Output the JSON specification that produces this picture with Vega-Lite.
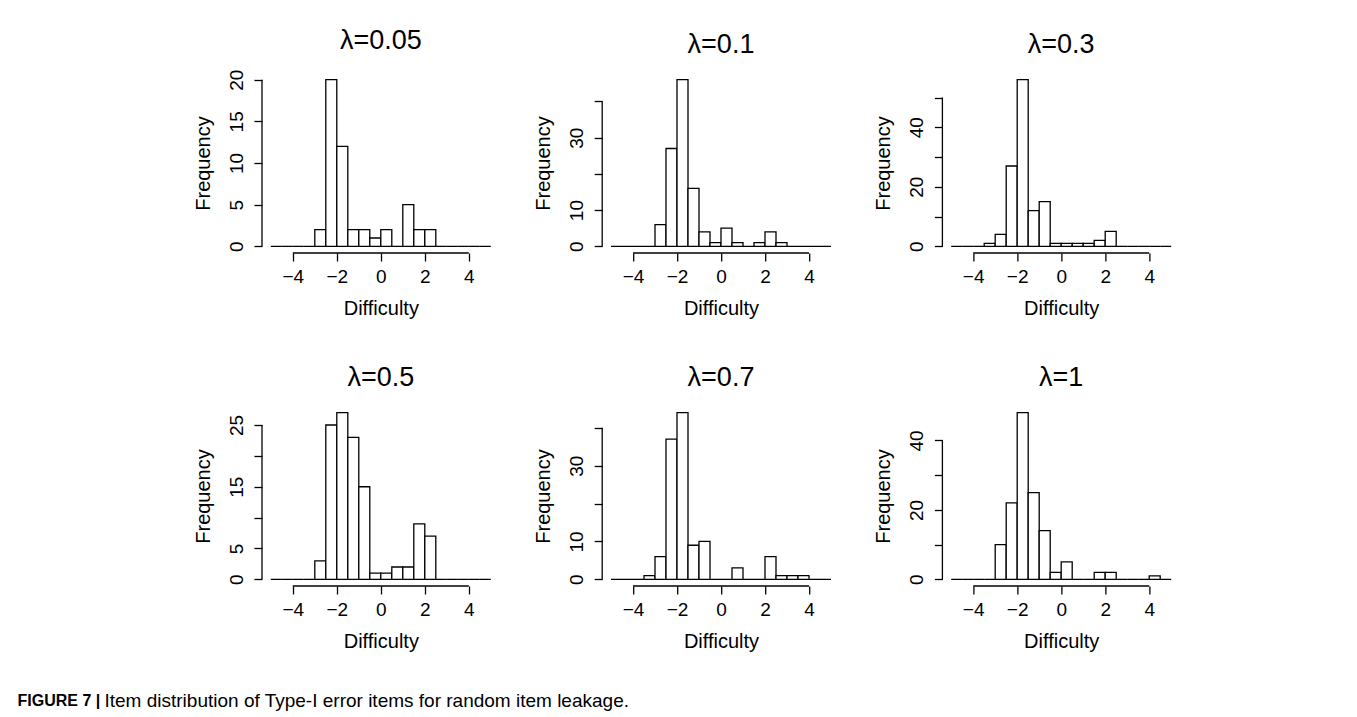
{
  "$schema": "https://vega.github.io/schema/vega-lite/v6.json",
  "background": "white",
  "padding": {"left": 17, "top": 27, "right": 5, "bottom": 2},
  "datasets": {
    "hist": [
      {"lambda": "0.05", "lo": -5, "hi": -4.5, "count": 0},
      {"lambda": "0.05", "lo": -4.5, "hi": -4, "count": 0},
      {"lambda": "0.05", "lo": -4, "hi": -3.5, "count": 0},
      {"lambda": "0.05", "lo": -3.5, "hi": -3, "count": 0},
      {"lambda": "0.05", "lo": -3, "hi": -2.5, "count": 2},
      {"lambda": "0.05", "lo": -2.5, "hi": -2, "count": 20},
      {"lambda": "0.05", "lo": -2, "hi": -1.5, "count": 12},
      {"lambda": "0.05", "lo": -1.5, "hi": -1, "count": 2},
      {"lambda": "0.05", "lo": -1, "hi": -0.5, "count": 2},
      {"lambda": "0.05", "lo": -0.5, "hi": 0, "count": 1},
      {"lambda": "0.05", "lo": 0, "hi": 0.5, "count": 2},
      {"lambda": "0.05", "lo": 0.5, "hi": 1, "count": 0},
      {"lambda": "0.05", "lo": 1, "hi": 1.5, "count": 5},
      {"lambda": "0.05", "lo": 1.5, "hi": 2, "count": 2},
      {"lambda": "0.05", "lo": 2, "hi": 2.5, "count": 2},
      {"lambda": "0.05", "lo": 2.5, "hi": 3, "count": 0},
      {"lambda": "0.05", "lo": 3, "hi": 3.5, "count": 0},
      {"lambda": "0.05", "lo": 3.5, "hi": 4, "count": 0},
      {"lambda": "0.05", "lo": 4, "hi": 4.5, "count": 0},
      {"lambda": "0.05", "lo": 4.5, "hi": 5, "count": 0},
      {"lambda": "0.1", "lo": -5, "hi": -4.5, "count": 0},
      {"lambda": "0.1", "lo": -4.5, "hi": -4, "count": 0},
      {"lambda": "0.1", "lo": -4, "hi": -3.5, "count": 0},
      {"lambda": "0.1", "lo": -3.5, "hi": -3, "count": 0},
      {"lambda": "0.1", "lo": -3, "hi": -2.5, "count": 6},
      {"lambda": "0.1", "lo": -2.5, "hi": -2, "count": 27},
      {"lambda": "0.1", "lo": -2, "hi": -1.5, "count": 46},
      {"lambda": "0.1", "lo": -1.5, "hi": -1, "count": 16},
      {"lambda": "0.1", "lo": -1, "hi": -0.5, "count": 4},
      {"lambda": "0.1", "lo": -0.5, "hi": 0, "count": 1},
      {"lambda": "0.1", "lo": 0, "hi": 0.5, "count": 5},
      {"lambda": "0.1", "lo": 0.5, "hi": 1, "count": 1},
      {"lambda": "0.1", "lo": 1, "hi": 1.5, "count": 0},
      {"lambda": "0.1", "lo": 1.5, "hi": 2, "count": 1},
      {"lambda": "0.1", "lo": 2, "hi": 2.5, "count": 4},
      {"lambda": "0.1", "lo": 2.5, "hi": 3, "count": 1},
      {"lambda": "0.1", "lo": 3, "hi": 3.5, "count": 0},
      {"lambda": "0.1", "lo": 3.5, "hi": 4, "count": 0},
      {"lambda": "0.1", "lo": 4, "hi": 4.5, "count": 0},
      {"lambda": "0.1", "lo": 4.5, "hi": 5, "count": 0},
      {"lambda": "0.3", "lo": -5, "hi": -4.5, "count": 0},
      {"lambda": "0.3", "lo": -4.5, "hi": -4, "count": 0},
      {"lambda": "0.3", "lo": -4, "hi": -3.5, "count": 0},
      {"lambda": "0.3", "lo": -3.5, "hi": -3, "count": 1},
      {"lambda": "0.3", "lo": -3, "hi": -2.5, "count": 4},
      {"lambda": "0.3", "lo": -2.5, "hi": -2, "count": 27},
      {"lambda": "0.3", "lo": -2, "hi": -1.5, "count": 56},
      {"lambda": "0.3", "lo": -1.5, "hi": -1, "count": 12},
      {"lambda": "0.3", "lo": -1, "hi": -0.5, "count": 15},
      {"lambda": "0.3", "lo": -0.5, "hi": 0, "count": 1},
      {"lambda": "0.3", "lo": 0, "hi": 0.5, "count": 1},
      {"lambda": "0.3", "lo": 0.5, "hi": 1, "count": 1},
      {"lambda": "0.3", "lo": 1, "hi": 1.5, "count": 1},
      {"lambda": "0.3", "lo": 1.5, "hi": 2, "count": 2},
      {"lambda": "0.3", "lo": 2, "hi": 2.5, "count": 5},
      {"lambda": "0.3", "lo": 2.5, "hi": 3, "count": 0},
      {"lambda": "0.3", "lo": 3, "hi": 3.5, "count": 0},
      {"lambda": "0.3", "lo": 3.5, "hi": 4, "count": 0},
      {"lambda": "0.3", "lo": 4, "hi": 4.5, "count": 0},
      {"lambda": "0.3", "lo": 4.5, "hi": 5, "count": 0},
      {"lambda": "0.5", "lo": -5, "hi": -4.5, "count": 0},
      {"lambda": "0.5", "lo": -4.5, "hi": -4, "count": 0},
      {"lambda": "0.5", "lo": -4, "hi": -3.5, "count": 0},
      {"lambda": "0.5", "lo": -3.5, "hi": -3, "count": 0},
      {"lambda": "0.5", "lo": -3, "hi": -2.5, "count": 3},
      {"lambda": "0.5", "lo": -2.5, "hi": -2, "count": 25},
      {"lambda": "0.5", "lo": -2, "hi": -1.5, "count": 27},
      {"lambda": "0.5", "lo": -1.5, "hi": -1, "count": 23},
      {"lambda": "0.5", "lo": -1, "hi": -0.5, "count": 15},
      {"lambda": "0.5", "lo": -0.5, "hi": 0, "count": 1},
      {"lambda": "0.5", "lo": 0, "hi": 0.5, "count": 1},
      {"lambda": "0.5", "lo": 0.5, "hi": 1, "count": 2},
      {"lambda": "0.5", "lo": 1, "hi": 1.5, "count": 2},
      {"lambda": "0.5", "lo": 1.5, "hi": 2, "count": 9},
      {"lambda": "0.5", "lo": 2, "hi": 2.5, "count": 7},
      {"lambda": "0.5", "lo": 2.5, "hi": 3, "count": 0},
      {"lambda": "0.5", "lo": 3, "hi": 3.5, "count": 0},
      {"lambda": "0.5", "lo": 3.5, "hi": 4, "count": 0},
      {"lambda": "0.5", "lo": 4, "hi": 4.5, "count": 0},
      {"lambda": "0.5", "lo": 4.5, "hi": 5, "count": 0},
      {"lambda": "0.7", "lo": -5, "hi": -4.5, "count": 0},
      {"lambda": "0.7", "lo": -4.5, "hi": -4, "count": 0},
      {"lambda": "0.7", "lo": -4, "hi": -3.5, "count": 0},
      {"lambda": "0.7", "lo": -3.5, "hi": -3, "count": 1},
      {"lambda": "0.7", "lo": -3, "hi": -2.5, "count": 6},
      {"lambda": "0.7", "lo": -2.5, "hi": -2, "count": 37},
      {"lambda": "0.7", "lo": -2, "hi": -1.5, "count": 44},
      {"lambda": "0.7", "lo": -1.5, "hi": -1, "count": 9},
      {"lambda": "0.7", "lo": -1, "hi": -0.5, "count": 10},
      {"lambda": "0.7", "lo": -0.5, "hi": 0, "count": 0},
      {"lambda": "0.7", "lo": 0, "hi": 0.5, "count": 0},
      {"lambda": "0.7", "lo": 0.5, "hi": 1, "count": 3},
      {"lambda": "0.7", "lo": 1, "hi": 1.5, "count": 0},
      {"lambda": "0.7", "lo": 1.5, "hi": 2, "count": 0},
      {"lambda": "0.7", "lo": 2, "hi": 2.5, "count": 6},
      {"lambda": "0.7", "lo": 2.5, "hi": 3, "count": 1},
      {"lambda": "0.7", "lo": 3, "hi": 3.5, "count": 1},
      {"lambda": "0.7", "lo": 3.5, "hi": 4, "count": 1},
      {"lambda": "0.7", "lo": 4, "hi": 4.5, "count": 0},
      {"lambda": "0.7", "lo": 4.5, "hi": 5, "count": 0},
      {"lambda": "1", "lo": -5, "hi": -4.5, "count": 0},
      {"lambda": "1", "lo": -4.5, "hi": -4, "count": 0},
      {"lambda": "1", "lo": -4, "hi": -3.5, "count": 0},
      {"lambda": "1", "lo": -3.5, "hi": -3, "count": 0},
      {"lambda": "1", "lo": -3, "hi": -2.5, "count": 10},
      {"lambda": "1", "lo": -2.5, "hi": -2, "count": 22},
      {"lambda": "1", "lo": -2, "hi": -1.5, "count": 48},
      {"lambda": "1", "lo": -1.5, "hi": -1, "count": 25},
      {"lambda": "1", "lo": -1, "hi": -0.5, "count": 14},
      {"lambda": "1", "lo": -0.5, "hi": 0, "count": 2},
      {"lambda": "1", "lo": 0, "hi": 0.5, "count": 5},
      {"lambda": "1", "lo": 0.5, "hi": 1, "count": 0},
      {"lambda": "1", "lo": 1, "hi": 1.5, "count": 0},
      {"lambda": "1", "lo": 1.5, "hi": 2, "count": 2},
      {"lambda": "1", "lo": 2, "hi": 2.5, "count": 2},
      {"lambda": "1", "lo": 2.5, "hi": 3, "count": 0},
      {"lambda": "1", "lo": 3, "hi": 3.5, "count": 0},
      {"lambda": "1", "lo": 3.5, "hi": 4, "count": 0},
      {"lambda": "1", "lo": 4, "hi": 4.5, "count": 1},
      {"lambda": "1", "lo": 4.5, "hi": 5, "count": 0}
    ]
  },
  "vconcat": [
    {
      "columns": 3,
      "spacing": {"row": 153, "column": 102.2},
      "bounds": "flush",
      "concat": [
        {
          "width": 237.6, "height": 180,
          "title": "λ=0.05",
          "layer": [
            {
              "data": {"name": "hist"},
              "transform": [{"filter": "datum.lambda === '0.05'"}],
              "mark": {"type": "rect", "fill": "white", "stroke": "black", "strokeWidth": 1.3},
              "encoding": {
                "x": {"field": "lo", "type": "quantitative", "scale": {"domain": [-5.4, 5.4], "nice": false, "zero": false},
                      "axis": {"values": [-4, -2, 0, 2, 4], "title": "Difficulty", "labelPadding": 6, "titlePadding": 12}},
                "x2": {"field": "hi"},
                "y": {"field": "count", "type": "quantitative", "scale": {"domain": [-0.8, 20.8], "nice": false, "zero": false},
                      "axis": {"values": [0, 5, 10, 15, 20], "title": "Frequency", "labelAngle": -90, "labelAlign": "center", "labelBaseline": "bottom", "labelPadding": 8, "titlePadding": 14}},
                "y2": {"datum": 0}
              }
            },
            {"data": {"values": [{}]}, "mark": {"type": "rule", "stroke": "black", "strokeWidth": 1.3},
             "encoding": {"x": {"datum": -4}, "x2": {"datum": 4}, "y": {"datum": -0.8}}},
            {"data": {"values": [{}]}, "mark": {"type": "rule", "stroke": "black", "strokeWidth": 1.3},
             "encoding": {"x": {"datum": -5.4}, "y": {"datum": 0}, "y2": {"datum": 20}}}
          ]
        },
        {
          "width": 237.6, "height": 180,
          "title": "λ=0.1",
          "layer": [
            {
              "data": {"name": "hist"},
              "transform": [{"filter": "datum.lambda === '0.1'"}],
              "mark": {"type": "rect", "fill": "white", "stroke": "black", "strokeWidth": 1.3},
              "encoding": {
                "x": {"field": "lo", "type": "quantitative", "scale": {"domain": [-5.4, 5.4], "nice": false, "zero": false},
                      "axis": {"values": [-4, -2, 0, 2, 4], "title": "Difficulty", "labelPadding": 6, "titlePadding": 12}},
                "x2": {"field": "hi"},
                "y": {"field": "count", "type": "quantitative", "scale": {"domain": [-1.84, 47.84], "nice": false, "zero": false},
                      "axis": {"values": [0, 10, 20, 30, 40], "labelExpr": "datum.value == 0 || datum.value == 10 || datum.value == 30 ? datum.label : ''", "title": "Frequency", "labelAngle": -90, "labelAlign": "center", "labelBaseline": "bottom", "labelPadding": 8, "titlePadding": 14}},
                "y2": {"datum": 0}
              }
            },
            {"data": {"values": [{}]}, "mark": {"type": "rule", "stroke": "black", "strokeWidth": 1.3},
             "encoding": {"x": {"datum": -4}, "x2": {"datum": 4}, "y": {"datum": -1.84}}},
            {"data": {"values": [{}]}, "mark": {"type": "rule", "stroke": "black", "strokeWidth": 1.3},
             "encoding": {"x": {"datum": -5.4}, "y": {"datum": 0}, "y2": {"datum": 40}}}
          ]
        },
        {
          "width": 237.6, "height": 180,
          "title": "λ=0.3",
          "layer": [
            {
              "data": {"name": "hist"},
              "transform": [{"filter": "datum.lambda === '0.3'"}],
              "mark": {"type": "rect", "fill": "white", "stroke": "black", "strokeWidth": 1.3},
              "encoding": {
                "x": {"field": "lo", "type": "quantitative", "scale": {"domain": [-5.4, 5.4], "nice": false, "zero": false},
                      "axis": {"values": [-4, -2, 0, 2, 4], "title": "Difficulty", "labelPadding": 6, "titlePadding": 12}},
                "x2": {"field": "hi"},
                "y": {"field": "count", "type": "quantitative", "scale": {"domain": [-2.24, 58.24], "nice": false, "zero": false},
                      "axis": {"values": [0, 10, 20, 30, 40, 50], "labelExpr": "datum.value == 0 || datum.value == 20 || datum.value == 40 ? datum.label : ''", "title": "Frequency", "labelAngle": -90, "labelAlign": "center", "labelBaseline": "bottom", "labelPadding": 8, "titlePadding": 14}},
                "y2": {"datum": 0}
              }
            },
            {"data": {"values": [{}]}, "mark": {"type": "rule", "stroke": "black", "strokeWidth": 1.3},
             "encoding": {"x": {"datum": -4}, "x2": {"datum": 4}, "y": {"datum": -2.24}}},
            {"data": {"values": [{}]}, "mark": {"type": "rule", "stroke": "black", "strokeWidth": 1.3},
             "encoding": {"x": {"datum": -5.4}, "y": {"datum": 0}, "y2": {"datum": 50}}}
          ]
        },
        {
          "width": 237.6, "height": 180,
          "title": "λ=0.5",
          "layer": [
            {
              "data": {"name": "hist"},
              "transform": [{"filter": "datum.lambda === '0.5'"}],
              "mark": {"type": "rect", "fill": "white", "stroke": "black", "strokeWidth": 1.3},
              "encoding": {
                "x": {"field": "lo", "type": "quantitative", "scale": {"domain": [-5.4, 5.4], "nice": false, "zero": false},
                      "axis": {"values": [-4, -2, 0, 2, 4], "title": "Difficulty", "labelPadding": 6, "titlePadding": 12}},
                "x2": {"field": "hi"},
                "y": {"field": "count", "type": "quantitative", "scale": {"domain": [-1.08, 28.08], "nice": false, "zero": false},
                      "axis": {"values": [0, 5, 10, 15, 20, 25], "labelExpr": "datum.value == 0 || datum.value == 5 || datum.value == 15 || datum.value == 25 ? datum.label : ''", "title": "Frequency", "labelAngle": -90, "labelAlign": "center", "labelBaseline": "bottom", "labelPadding": 8, "titlePadding": 14}},
                "y2": {"datum": 0}
              }
            },
            {"data": {"values": [{}]}, "mark": {"type": "rule", "stroke": "black", "strokeWidth": 1.3},
             "encoding": {"x": {"datum": -4}, "x2": {"datum": 4}, "y": {"datum": -1.08}}},
            {"data": {"values": [{}]}, "mark": {"type": "rule", "stroke": "black", "strokeWidth": 1.3},
             "encoding": {"x": {"datum": -5.4}, "y": {"datum": 0}, "y2": {"datum": 25}}}
          ]
        },
        {
          "width": 237.6, "height": 180,
          "title": "λ=0.7",
          "layer": [
            {
              "data": {"name": "hist"},
              "transform": [{"filter": "datum.lambda === '0.7'"}],
              "mark": {"type": "rect", "fill": "white", "stroke": "black", "strokeWidth": 1.3},
              "encoding": {
                "x": {"field": "lo", "type": "quantitative", "scale": {"domain": [-5.4, 5.4], "nice": false, "zero": false},
                      "axis": {"values": [-4, -2, 0, 2, 4], "title": "Difficulty", "labelPadding": 6, "titlePadding": 12}},
                "x2": {"field": "hi"},
                "y": {"field": "count", "type": "quantitative", "scale": {"domain": [-1.76, 45.76], "nice": false, "zero": false},
                      "axis": {"values": [0, 10, 20, 30, 40], "labelExpr": "datum.value == 0 || datum.value == 10 || datum.value == 30 ? datum.label : ''", "title": "Frequency", "labelAngle": -90, "labelAlign": "center", "labelBaseline": "bottom", "labelPadding": 8, "titlePadding": 14}},
                "y2": {"datum": 0}
              }
            },
            {"data": {"values": [{}]}, "mark": {"type": "rule", "stroke": "black", "strokeWidth": 1.3},
             "encoding": {"x": {"datum": -4}, "x2": {"datum": 4}, "y": {"datum": -1.76}}},
            {"data": {"values": [{}]}, "mark": {"type": "rule", "stroke": "black", "strokeWidth": 1.3},
             "encoding": {"x": {"datum": -5.4}, "y": {"datum": 0}, "y2": {"datum": 40}}}
          ]
        },
        {
          "width": 237.6, "height": 180,
          "title": "λ=1",
          "layer": [
            {
              "data": {"name": "hist"},
              "transform": [{"filter": "datum.lambda === '1'"}],
              "mark": {"type": "rect", "fill": "white", "stroke": "black", "strokeWidth": 1.3},
              "encoding": {
                "x": {"field": "lo", "type": "quantitative", "scale": {"domain": [-5.4, 5.4], "nice": false, "zero": false},
                      "axis": {"values": [-4, -2, 0, 2, 4], "title": "Difficulty", "labelPadding": 6, "titlePadding": 12}},
                "x2": {"field": "hi"},
                "y": {"field": "count", "type": "quantitative", "scale": {"domain": [-1.92, 49.92], "nice": false, "zero": false},
                      "axis": {"values": [0, 10, 20, 30, 40], "labelExpr": "datum.value == 0 || datum.value == 20 || datum.value == 40 ? datum.label : ''", "title": "Frequency", "labelAngle": -90, "labelAlign": "center", "labelBaseline": "bottom", "labelPadding": 8, "titlePadding": 14}},
                "y2": {"datum": 0}
              }
            },
            {"data": {"values": [{}]}, "mark": {"type": "rule", "stroke": "black", "strokeWidth": 1.3},
             "encoding": {"x": {"datum": -4}, "x2": {"datum": 4}, "y": {"datum": -1.92}}},
            {"data": {"values": [{}]}, "mark": {"type": "rule", "stroke": "black", "strokeWidth": 1.3},
             "encoding": {"x": {"datum": -5.4}, "y": {"datum": 0}, "y2": {"datum": 40}}}
          ]
        }
      ]
    },
    {
      "width": 1, "height": 1,
      "data": {"values": [{}]},
      "layer": [
        {"mark": {"type": "text", "text": "FIGURE 7 |", "fontWeight": "bold", "fontSize": 16, "align": "left", "baseline": "middle", "dx": -245, "color": "black"}, "encoding": {}},
        {"mark": {"type": "text", "text": "Item distribution of Type-I error items for random item leakage.", "fontSize": 19, "align": "left", "baseline": "middle", "dx": -158, "color": "black"}, "encoding": {}}
      ]
    }
  ],
  "spacing": 627,
  "bounds": "flush",
  "config": {
    "font": "Liberation Sans",
    "view": {"stroke": null},
    "axis": {"grid": false, "domain": false, "tickColor": "black", "tickWidth": 1.3, "tickSize": 8, "tickCount": 20, "format": "d",
             "labelColor": "black", "labelFontSize": 19, "labelFont": "Liberation Sans", "labelFlush": false, "labelOverlap": false,
             "titleColor": "black", "titleFontSize": 20, "titleFontWeight": "normal", "titleFont": "Liberation Sans"},
    "title": {"fontSize": 27, "fontWeight": "normal", "color": "black", "font": "Liberation Sans", "offset": 14}
  }
}
